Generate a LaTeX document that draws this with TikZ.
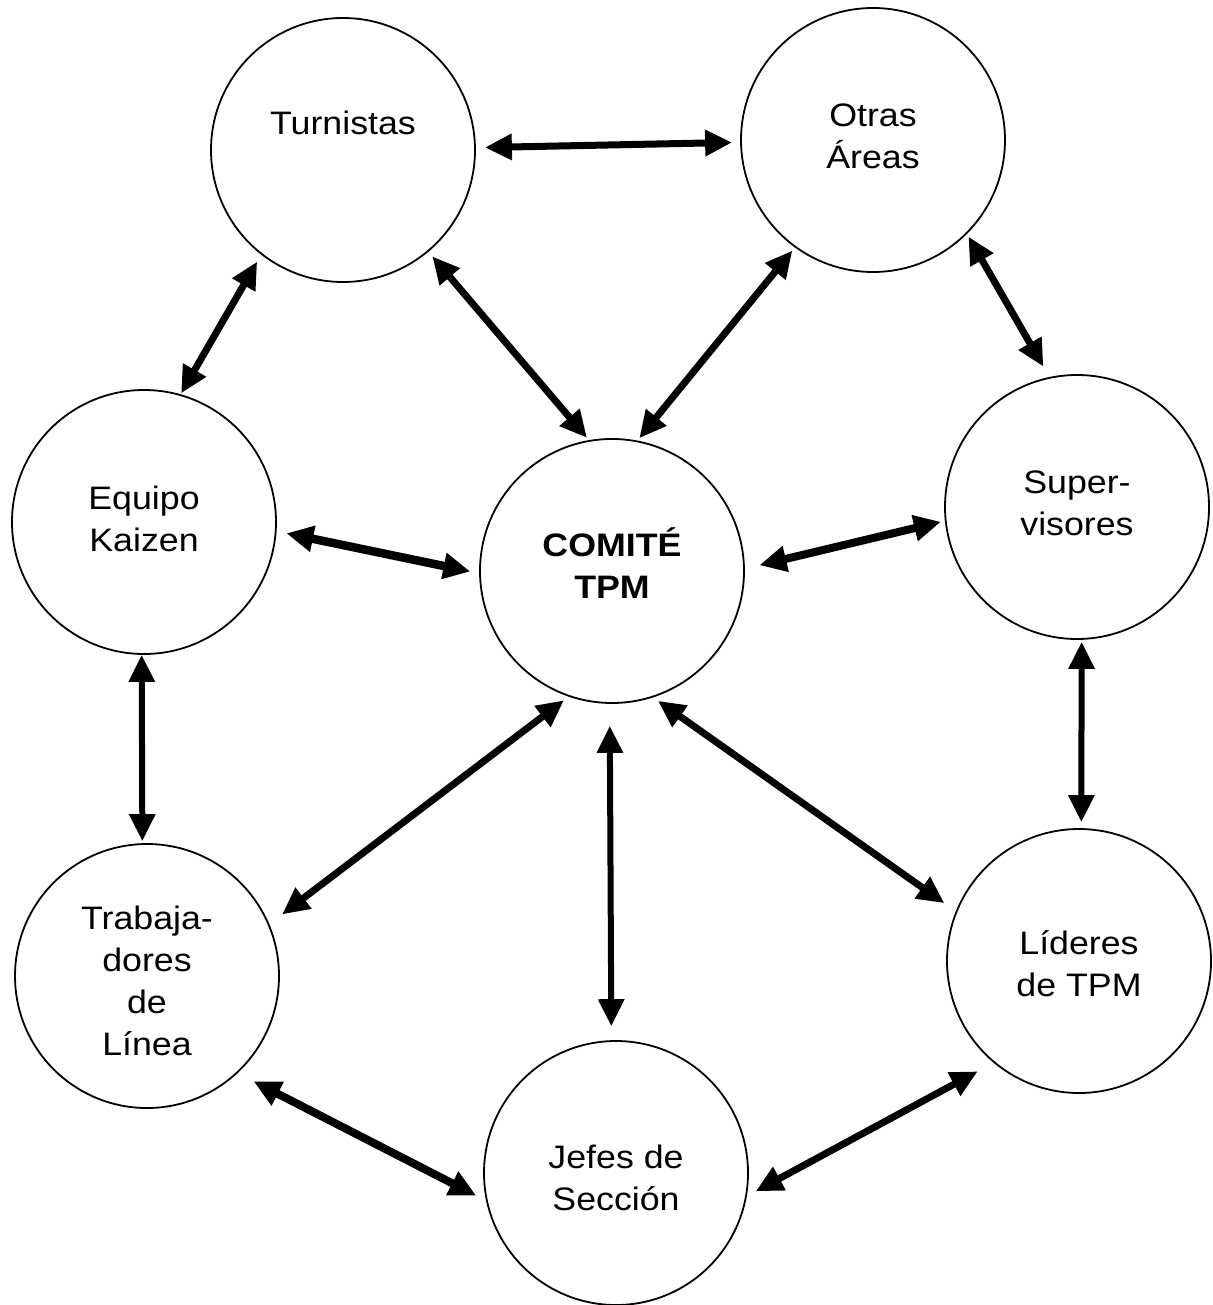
\documentclass[tikz,border=0pt]{standalone}
\usepackage{fontspec}
\setmainfont{Liberation Sans}[FakeStretch=1.1]
\usetikzlibrary{arrows.meta}
\begin{document}
\begin{tikzpicture}[x=1pt,y=-1pt,
  txtfont/.style={font=\fontsize{32.5}{42}\selectfont, align=center},
  circ/.style={circle, draw, line width=1.8pt, minimum size=264pt, inner sep=0pt},
  link/.style={line width=7pt, {Triangle[width=25pt,length=27pt]}-{Triangle[width=25pt,length=27pt]}},
]
\useasboundingbox[fill=white] (0,0) rectangle (1212,1305);

\node[circ, label={[txtfont, yshift=27pt]center:Turnistas}] (tur) at (343,150) {};
\node[circ, label={[txtfont, yshift=4pt]center:Otras\\Áreas}] (otr) at (873,140) {};
\node[circ, label={[txtfont, yshift=3pt]center:Equipo\\Kaizen}] (equ) at (144,522) {};
\node[circ, label={[txtfont, font=\bfseries\fontsize{32.5}{42}\selectfont, yshift=8pt]center:COMITÉ\\TPM}] (com) at (612,571) {};
\node[circ, label={[txtfont, yshift=4pt]center:Super-\\visores}] (sup) at (1077,507) {};
\node[circ, label={[txtfont, yshift=-5pt]center:Trabaja-\\dores\\de\\Línea}] (tra) at (147,976) {};
\node[circ, label={[txtfont, yshift=-2.5pt]center:Líderes\\de TPM}] (lid) at (1079,961) {};
\node[circ, label={[txtfont, yshift=-4.5pt]center:Jefes de\\Sección}] (jef) at (616,1173) {};

\draw[link, shorten <=9pt, shorten >=8pt] (tur.1) -- (otr.181);
\draw[link, shorten <=8pt, shorten >=1pt] (tur.232) -- (equ.74);
\draw[link, shorten <=6pt, shorten >=3pt] (tur.310) -- (com.100);
\draw[link, shorten <=4pt, shorten >=3pt] (otr.234) -- (com.79);
\draw[link, shorten <=3pt, shorten >=12pt] (otr.315) -- (sup.102);
\draw[link, line width=8.5pt, shorten <=10pt, shorten >=9pt] (equ.356) -- (com.181);
\draw[link, line width=8pt, shorten <=4pt, shorten >=15pt] (sup.186) -- (com.1);
\draw[link, line width=6pt, shorten <=0pt, shorten >=2pt] (equ.269) -- (tra.92);
\draw[link, shorten <=6pt, shorten >=16pt] (com.251) -- (tra.23);
\draw[link, line width=6pt, shorten <=22pt, shorten >=14pt] (com.269) -- (jef.92);
\draw[link, shorten <=6pt, shorten >=14pt] (com.288) -- (lid.158);
\draw[link, line width=6pt, shorten <=2pt, shorten >=6pt] (sup.272) -- (lid.89);
\draw[link, line width=8pt, shorten <=18pt, shorten >=11pt] (tra.313) -- (jef.192);
\draw[link, shorten <=18pt, shorten >=10pt] (lid.230) -- (jef.350);
\end{tikzpicture}
\end{document}
